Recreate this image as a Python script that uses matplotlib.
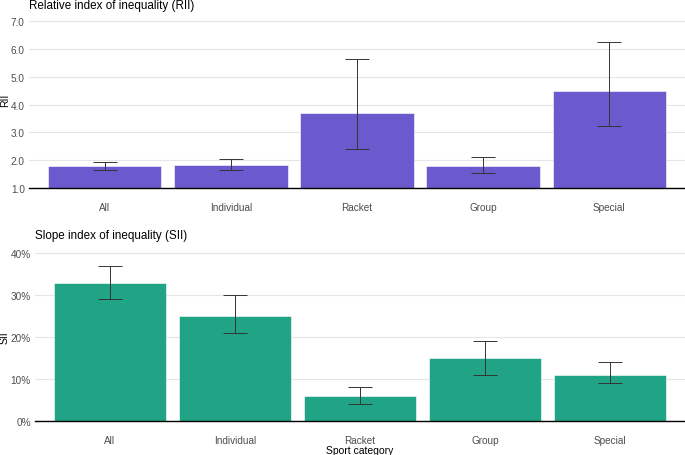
import matplotlib.pyplot as plt
import numpy as np
from matplotlib.ticker import FuncFormatter

categories = ['All', 'Individual', 'Racket', 'Group', 'Special']

rii = [1.78, 1.83, 3.70, 1.80, 4.48]
rii_low = [1.65, 1.65, 2.42, 1.53, 3.22]
rii_high = [1.92, 2.05, 5.65, 2.10, 6.25]

sii = [0.33, 0.25, 0.06, 0.15, 0.11]
sii_low = [0.29, 0.21, 0.04, 0.11, 0.09]
sii_high = [0.37, 0.30, 0.08, 0.19, 0.14]

plt.rcParams['font.family'] = ['Liberation Sans', 'DejaVu Sans']

W, H = 685, 456


def px_axes(fig, left, bottom, right, top):
    return fig.add_axes([left / W, 1 - bottom / H, (right - left) / W, (bottom - top) / H])


def style_ax(ax):
    for s in ('left', 'right', 'top'):
        ax.spines[s].set_visible(False)
    ax.spines['bottom'].set_color('black')
    ax.spines['bottom'].set_linewidth(1.0)
    ax.grid(axis='y', color='#e6e6e6', linewidth=0.8)
    ax.set_axisbelow(True)
    ax.tick_params(axis='both', length=0, labelsize=7.2, labelcolor='#4d4d4d')
    ax.tick_params(axis='x', pad=10)
    ax.tick_params(axis='y', pad=3)
    ax.set_xlim(-0.6, len(categories) - 0.4)
    ax.set_xticks(np.arange(len(categories)))
    ax.set_xticklabels(categories)


def draw_panel(ax, vals, low, high, color, base):
    x = np.arange(len(vals))
    heights = np.array(vals) - base
    ax.bar(x, heights, bottom=base, width=0.9, color=color,
           edgecolor='#ffffff', linewidth=0.4)
    yerr = [np.array(vals) - np.array(low), np.array(high) - np.array(vals)]
    ax.errorbar(x, vals, yerr=yerr, fmt='none', ecolor='#333333',
                elinewidth=0.7, capsize=8.5, capthick=0.7)


fig = plt.figure(figsize=(W / 100, H / 100), dpi=100)

# top: RII
ax1 = px_axes(fig, 29, 189, 685, 18)
draw_panel(ax1, rii, rii_low, rii_high, '#6a5acd', 1.0)
style_ax(ax1)
ax1.set_ylim(1.0, 7.15)
ax1.set_yticks(np.arange(1, 8))
ax1.yaxis.set_major_formatter(FuncFormatter(lambda v, p: f'{v:.1f}'))
fig.text(5 / W, 1 - 100 / H, 'RII', fontsize=7.5, rotation=90, ha='center', va='center')
fig.text(29 / W, 1 - 6 / H, 'Relative index of inequality (RII)', fontsize=8.4,
         ha='left', va='center')

# bottom: SII
ax2 = px_axes(fig, 35, 422, 685, 250)
draw_panel(ax2, sii, sii_low, sii_high, '#21a386', 0.0)
style_ax(ax2)
ax2.set_ylim(0, 0.41)
ax2.set_yticks([0, 0.1, 0.2, 0.3, 0.4])
ax2.yaxis.set_major_formatter(FuncFormatter(lambda v, p: f'{v * 100:.0f}%'))
fig.text(5 / W, 1 - 338 / H, 'SII', fontsize=7.5, rotation=90, ha='center', va='center')
fig.text(360 / W, 1 - 451 / H, 'Sport category', fontsize=7.5, ha='center', va='center')
fig.text(35 / W, 1 - 236 / H, 'Slope index of inequality (SII)', fontsize=8.4,
         ha='left', va='center')

fig.savefig('out.png', dpi=100)
